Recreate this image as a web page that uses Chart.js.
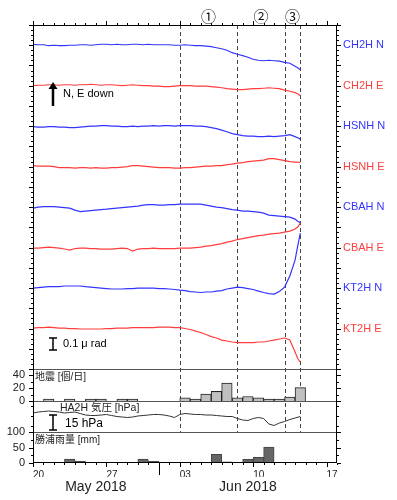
<!DOCTYPE html>
<html>
<head>
<meta charset="utf-8">
<script src="https://cdn.jsdelivr.net/npm/chart.js@4.4.0/dist/chart.umd.min.js"></script>
<style>
  html, body { margin: 0; padding: 0; background: #fff; }
  #wrap { width: 397px; height: 500px; }
</style>
</head>
<body>
<div id="wrap"><canvas id="chart"></canvas></div>
<script>
// ---- data (time in days since 2018-05-20, tilt change in nrad) ----
const days = [0,0.5,1,1.5,2,2.5,3,3.5,4,4.5,5,5.5,6,6.5,7,7.5,8,8.5,9,9.5,10,10.5,11,11.5,12,12.5,
  13,13.5,14,14.5,15,15.5,16,16.5,17,17.5,18,18.5,19,19.5,20,20.5,21,21.5,22,22.5,23,23.5,24,24.5,25,25.25,25.5];

const stationNames = ['CH2H N','CH2H E','HSNH N','HSNH E','CBAH N','CBAH E','KT2H N','KT2H E'];

const ch2hN = [8,4,4,-4,0,-4,-4,0,0,4,4,0,4,8,8,4,8,4,4,8,8,4,8,4,4,4,4,0,0,4,0,-4,-4,-8,-12,-21,-29,-42,-62,-75,
  -87,-100,-117,-125,-129,-125,-129,-133,-142,-150,-175,-187,-204];
const ch2hE = [0,4,4,8,8,4,8,8,4,8,8,12,8,4,8,8,4,0,4,8,4,0,0,-4,-4,-8,-8,-4,0,0,0,-4,-4,-4,-8,-12,-17,-25,-29,-33,
  -33,-29,-25,-25,-21,-17,-21,-25,-37,-46,-58,-67,-83];
const hsnhN = [-4,-8,-8,-4,-4,-8,-8,-12,-12,-8,-4,0,0,4,4,0,0,-4,-4,0,-4,0,0,4,0,4,4,0,4,4,4,0,0,-4,-12,-21,-33,-46,-62,-71,
  -79,-83,-83,-87,-87,-83,-87,-83,-79,-71,-87,-96,-108];
const hsnhE = [8,4,4,4,0,-8,-8,-8,-12,-8,-8,-12,-8,-12,-12,-8,-8,-4,0,8,8,4,0,-4,-8,-8,-8,-12,-12,-8,-8,-4,0,4,4,8,8,17,21,29,
  33,42,46,50,54,67,67,58,50,42,37,37,33];
const cbahN = [-8,0,4,4,4,0,-4,-8,-25,-37,-33,-29,-25,-21,-17,-12,-8,-4,0,4,8,17,21,21,17,17,21,21,25,25,25,25,25,17,8,0,-4,-12,-21,-25,
  -33,-33,-37,-42,-50,-67,-71,-75,-79,-83,-100,-117,-129];
const cbahE = [-4,-4,0,4,0,-4,-12,-21,-8,-4,-4,-8,-8,-12,-12,-12,-8,-4,-8,-29,-12,-8,-8,-4,-8,-8,-8,-8,-4,-4,-4,0,4,12,17,25,33,46,54,67,
  75,83,92,100,104,112,117,121,129,137,154,171,204];
const kt2hN = [0,4,8,12,12,12,17,17,17,17,12,8,4,0,-4,-8,-8,-8,-4,-4,0,0,0,0,-4,-4,-8,-12,-17,-21,-29,-33,-37,-33,-33,-25,-21,-8,0,8,
  4,-4,-12,-25,-37,-46,-50,-29,8,100,233,350,458];
const kt2hE = [4,8,8,12,8,4,4,0,0,-4,-4,-4,-4,-4,0,0,4,4,4,8,8,8,8,8,12,12,12,8,8,0,-8,-21,-33,-50,-67,-79,-96,-104,-112,-117,
  -117,-117,-117,-112,-112,-104,-96,-87,-79,-96,-196,-250,-279];

const stationSeries = [ch2hN, ch2hE, hsnhN, hsnhE, cbahN, cbahE, kt2hN, kt2hE];

// earthquakes per day and Katsuura rainfall per day, from 2018-05-20
const eqPerDay   = [0,1,0,1,0,1,1,0,1,1,0,0,0,0,5,3,11,15,28,5,7,5,3,1,6,21];
const rainPerDay = [0,0,0,13,6,0,0,0,0,0,13,5,0,0,0,0,0,28,4,0,12,18,51,0,0,0];

// HA2H air pressure [hPa]
const pressDays = [0,0.5,1,1.5,2,2.5,3,3.5,4,4.5,5,5.5,6,6.5,7,7.5,8,8.5,9,9.5,10,10.5,11,11.5,12,12.5,
  13,13.5,14,14.5,15,15.5,16,16.5,17,17.5,18,18.5,19,19.5,20,20.5,21,21.5,22,22.5,23,23.5,24,24.5,25,25.5];
const pressure = [1013,1014,1014.5,1015,1014.5,1014,1013,1013.5,1014,1012.5,1011,1010.5,1010.5,1011,1011.5,1010.5,
  1009.5,1009,1008.5,1009,1010,1010.5,1011,1011.5,1011.5,1011,1010,1008.5,1011.5,1012.5,1012,1011.5,1011.5,1011,
  1011,1010.5,1010,1009.5,1009.5,1007.5,1006,1005.5,1007.5,1008.5,1007.5,1002,1000.5,1003,1004.5,1006.5,1008,1009.5];

const dayTickValues = [0, 7, 14, 21, 28];
const dayTickLabels = ['20', '27', '03', '10', '17'];
const monthTickValues = [6, 20.5];
const monthLabels = ['May 2018', 'Jun 2018'];
const monthStartDay = 12;
const eqTicks = [0, 20, 40];
const rainTicks = [0, 50, 100];
const eventDays = [14, 19.5, 24, 25.5];
const eventLabels = ['\u2460', '\u2461', '\u2462'];

// ---- display setup ----
const TRACE_STEP = 168.5;                  // nrad between tick marks, traces every 2 steps
const traceLevels = [16, 14, 12, 10, 8, 6, 4, 2];
const BLUE = '#3434ff', RED = '#ff3d3d';
const stationColors = stationNames.map(n => n.endsWith('N') ? BLUE : RED);
const FONT = "'Liberation Sans', 'Noto Sans CJK JP', Arial, sans-serif";

Chart.defaults.font.family = FONT;
Chart.defaults.color = '#222';

const datasets = stationSeries.map((s, i) => ({
  type: 'line', label: stationNames[i], xAxisID: 'x', yAxisID: 'yMain',
  data: s.map((v, j) => ({ x: days[j], y: traceLevels[i] * TRACE_STEP + v })),
  borderColor: stationColors[i], borderWidth: 1.2, pointRadius: 0, tension: 0, fill: false
}));

datasets.push({
  type: 'bar', label: 'eq', xAxisID: 'x', yAxisID: 'yEq',
  data: eqPerDay.map((v, i) => ({ x: i + 0.5, y: v || null })),
  backgroundColor: '#c0c0c0', borderColor: '#222', borderWidth: 1, borderSkipped: 'start',
  barPercentage: 1, categoryPercentage: 1, grouped: false, minBarLength: 2
});
datasets.push({
  type: 'bar', label: 'rain', xAxisID: 'x', yAxisID: 'yRain',
  data: rainPerDay.map((v, i) => ({ x: i + 0.5, y: v || null })),
  backgroundColor: '#666', borderColor: '#444', borderWidth: 1, borderSkipped: 'start',
  barPercentage: 1, categoryPercentage: 1, grouped: false
});
datasets.push({
  type: 'line', label: 'press', xAxisID: 'x', yAxisID: 'yPr',
  data: pressure.map((v, i) => ({ x: pressDays[i], y: v })),
  borderColor: '#333', borderWidth: 1, pointRadius: 0, tension: 0, fill: false
});

const hidden = { display: false, drawTicks: false };
const leftAxis = (extra) => Object.assign({
  type: 'linear', position: 'left', stack: 'panels',
  grid: hidden, border: { display: false },
  afterFit: (s) => { s.width = 33; }
}, extra);
const labelTicks = { padding: 8, autoSkip: false, maxTicksLimit: 3, font: { size: 11, lineHeight: 1 } };

const panelsPlugin = {
  id: 'panels',
  beforeDatasetsDraw(chart) {
    const { ctx, chartArea: a, scales: s } = chart;
    ctx.save();
    ctx.strokeStyle = '#444';
    ctx.lineWidth = 1;
    ctx.setLineDash([4, 3]);
    eventDays.forEach(d => {
      const x = Math.round(s.x.getPixelForValue(d)) + 0.5;
      ctx.beginPath(); ctx.moveTo(x, a.top); ctx.lineTo(x, s.yPr.bottom); ctx.stroke();
    });
    ctx.restore();
  },
  afterDraw(chart) {
    const { ctx, chartArea: a, scales: s } = chart;
    const line = (x1, y1, x2, y2) => { ctx.beginPath(); ctx.moveTo(x1, y1); ctx.lineTo(x2, y2); ctx.stroke(); };
    ctx.save();
    ctx.lineWidth = 1;

    // panel separators and frame
    ctx.strokeStyle = '#555';
    [s.yMain.bottom, s.yEq.bottom, s.yPr.bottom].forEach(y => {
      const yy = Math.round(y) + 0.5;
      line(a.left, yy, a.right, yy);
    });
    ctx.strokeStyle = '#000';
    ctx.strokeRect(a.left + 0.5, a.top + 0.5, a.right - a.left - 1, a.bottom - a.top - 1);

    // tick marks on left and right
    const sideTicks = (scale, from, to, step, isMajor) => {
      for (let v = from; v <= to + 1e-6; v += step) {
        const y = Math.round(scale.getPixelForValue(v)) + 0.5;
        const len = isMajor(v) ? 4 : 2;
        line(a.left - len, y, a.left, y);
        line(a.right, y, a.right + len, y);
      }
    };
    sideTicks(s.yMain, 0, 17 * TRACE_STEP, TRACE_STEP / 4, v => Math.abs(v / TRACE_STEP - Math.round(v / TRACE_STEP)) < 1e-6);
    sideTicks(s.yEq, 0, 50, 10, v => v % 20 === 0);
    sideTicks(s.yPr, 1000, 1020, 10, () => false);
    sideTicks(s.yRain, 0, 100, 25, v => v % 50 === 0);

    // day ticks top and bottom
    for (let d = 0; d <= 29; d++) {
      const x = Math.round(s.x.getPixelForValue(d)) + 0.5;
      const len = d % 7 === 0 ? 4 : 2;
      line(x, a.top - len, x, a.top);
      line(x, a.bottom, x, a.bottom + len);
    }
    const xm = Math.round(s.x.getPixelForValue(monthStartDay)) + 0.5;
    line(xm, a.bottom, xm, a.bottom + 12);

    // event numbers
    ctx.fillStyle = '#111';
    ctx.font = "15px 'Noto Sans CJK JP', " + FONT;
    ctx.textAlign = 'center';
    ctx.textBaseline = 'middle';
    eventLabels.forEach((t, i) => {
      const x = (s.x.getPixelForValue(eventDays[i]) + s.x.getPixelForValue(eventDays[i + 1])) / 2;
      ctx.fillText(t, x, a.top - 9);
    });

    // station names on the right
    ctx.font = '11px ' + FONT;
    ctx.textAlign = 'left';
    stationNames.forEach((n, i) => {
      ctx.fillStyle = stationColors[i];
      ctx.fillText(n, a.right + 6, s.yMain.getPixelForValue(traceLevels[i] * TRACE_STEP));
    });

    // direction arrow
    ctx.fillStyle = '#000';
    ctx.strokeStyle = '#000';
    const ax = a.left + 20;
    const aBot = s.yMain.getPixelForValue(13 * TRACE_STEP);
    const aTip = aBot - 24;
    ctx.lineWidth = 2.5;
    line(ax, aBot, ax, aTip + 5);
    ctx.beginPath();
    ctx.moveTo(ax, aTip); ctx.lineTo(ax - 4.5, aTip + 7); ctx.lineTo(ax + 4.5, aTip + 7); ctx.closePath(); ctx.fill();
    ctx.font = '11px ' + FONT;
    ctx.fillText('N, E down', ax + 10, aBot - 12);

    // I-shaped scale bars
    const iBar = (x, yb, h) => {
      ctx.lineWidth = 1.5;
      line(x, yb, x, yb - h);
      line(x - 4, yb, x + 4, yb);
      line(x - 4, yb - h, x + 4, yb - h);
    };
    const tiltBot = s.yMain.bottom - 19;
    const tiltH = s.yMain.getPixelForValue(0) - s.yMain.getPixelForValue(100);
    iBar(ax, tiltBot, tiltH);
    ctx.fillText('0.1 \u03bc rad', ax + 10, tiltBot - tiltH / 2);

    const prBot = s.yPr.bottom - 2;
    const prH = s.yPr.getPixelForValue(1000) - s.yPr.getPixelForValue(1015);
    iBar(ax, prBot, prH);
    ctx.font = '12px ' + FONT;
    ctx.fillText('15 hPa', ax + 12, prBot - 6);

    // panel titles
    ctx.fillStyle = '#222';
    ctx.font = '10px ' + FONT;
    ctx.fillText('\u5730\u9707 [\u500b/\u65e5]', a.left + 2, s.yEq.top + 8);
    ctx.fillText('\u52dd\u6d66\u96e8\u91cf [mm]', a.left + 2, s.yRain.top + 8);
    ctx.font = '10.5px ' + FONT;
    ctx.fillText('HA2H \u6c17\u5727 [hPa]', a.left + 27, s.yPr.top + 7);
    ctx.restore();
  }
};

new Chart(document.getElementById('chart'), {
  type: 'line',
  data: { datasets },
  options: {
    responsive: true, maintainAspectRatio: false, animation: false,
    layout: { padding: { top: 25, right: 60, bottom: 0, left: 0 } },
    plugins: { legend: { display: false }, tooltip: { enabled: false } },
    scales: {
      x: {
        type: 'linear', position: 'bottom', min: 0, max: 29, offset: false,
        afterBuildTicks: (s) => { s.ticks = dayTickValues.map(v => ({ value: v })); },
        ticks: { callback: (v, i) => dayTickLabels[i], align: 'start', padding: 6, maxRotation: 0, autoSkip: false, font: { size: 10 } },
        grid: Object.assign({ offset: false }, hidden), border: { display: false },
        afterFit: (s) => { s.height = 14; }
      },
      xMonth: {
        type: 'linear', position: 'bottom', min: 0, max: 29, offset: false,
        afterBuildTicks: (s) => { s.ticks = monthTickValues.map(v => ({ value: v })); },
        ticks: { callback: (v, i) => monthLabels[i], padding: 2, maxRotation: 0, autoSkip: false, font: { size: 14 } },
        grid: hidden, border: { display: false },
        afterFit: (s) => { s.height = 23; }
      },
      yRain: leftAxis({
        stackWeight: 31, min: 0, max: 100,
        afterBuildTicks: (s) => { s.ticks = rainTicks.map(v => ({ value: v })); },
        ticks: labelTicks
      }),
      yPr: leftAxis({ stackWeight: 31, min: 994, max: 1025, ticks: { display: false } }),
      yEq: leftAxis({
        stackWeight: 32, min: 0, max: 50,
        afterBuildTicks: (s) => { s.ticks = eqTicks.map(v => ({ value: v })); },
        ticks: labelTicks
      }),
      yMain: leftAxis({ stackWeight: 344, min: 0, max: 17 * TRACE_STEP, ticks: { display: false } })
    }
  },
  plugins: [panelsPlugin]
});
</script>
</body>
</html>
